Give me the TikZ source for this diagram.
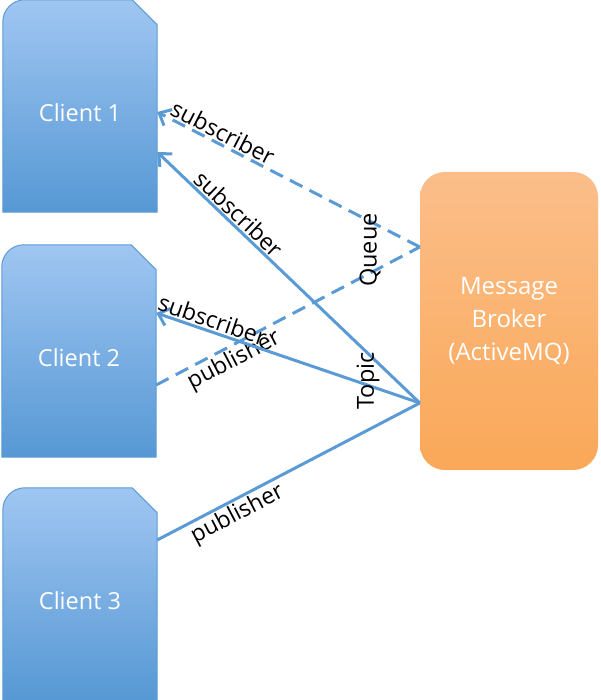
\documentclass[tikz,border=0pt]{standalone}
\usepackage{fontspec}
\setmainfont{Open Sans}
\usetikzlibrary{arrows.meta,backgrounds}

\definecolor{clienttop}{RGB}{160,198,242}
\definecolor{clientbot}{RGB}{86,152,212}
\definecolor{brokertop}{RGB}{251,190,138}
\definecolor{brokerbot}{RGB}{250,168,88}
\definecolor{linkblue}{RGB}{91,155,213}

\tikzset{
  client/.style={minimum width=154pt, minimum height=212pt, inner sep=0pt,
    text=white, text height=32pt, text depth=0pt, font=\fontsize{23.5}{32}\selectfont},
  broker/.style={rounded corners=25pt, top color=brokertop, bottom color=brokerbot,
    minimum width=178pt, minimum height=298pt, align=center, text=white,
    font=\fontsize{24}{33}\selectfont},
  link/.style={draw=linkblue, line width=3pt},
  queue/.style={link, dash pattern=on 14pt off 8pt},
  tip/.style={-{Straight Barb[length=10pt, width=18pt]}},
  tag/.style={font=\fontsize{23}{26}\selectfont, sloped, inner sep=1.5pt},
  kind/.style={font=\fontsize{23.5}{26}\selectfont, rotate=90, inner sep=0pt},
}

\begin{document}
\begin{tikzpicture}[x=1pt, y=1pt]

\useasboundingbox (0,0) rectangle (600,700);

\node[client] (c1) at (80,594) {Client 1};
\node[client] (c2) at (79,349) {Client 2};
\node[client] (c3) at (80,106) {Client 3};

\node[broker] (mb) at (509,379) {Message\\Broker\\(ActiveMQ)};

\begin{scope}[on background layer]
\foreach \c in {c1,c2,c3}
  \shade[top color=clienttop, bottom color=clientbot, draw=linkblue, line width=1pt]
    (\c.south west) -- ([yshift=-22pt]\c.north west)
    arc[start angle=180, end angle=90, radius=22pt]
    -- ([xshift=-25pt]\c.north east) -- ([yshift=-25pt]\c.north east)
    -- (\c.south east) -- cycle;
\end{scope}

\coordinate (q) at ([yshift=74pt]mb.west);
\coordinate (t) at ([yshift=-82pt]mb.west);

\draw[queue, tip] (q) -- node[tag, above, pos=0.77] (s1) {subscriber} ([yshift=-6pt]c1.east);
\draw[link, tip]  (t) -- node[tag, above, pos=0.72] (s2) {subscriber} ([yshift=-46pt]c1.east);
\draw[queue] ([yshift=-34pt]c2.east) -- node[tag, below, pos=0.27] (p1) {publisher} (q);
\draw[link, tip]  (t) -- node[tag, above, pos=0.80] (s3) {subscriber} ([yshift=38pt]c2.east);
\draw[link] ([yshift=54pt]c3.east) -- node[tag, below, pos=0.28] (p2) {publisher} (t);

\node[kind] (qk) at (370,450) {Queue};
\node[kind] (tk) at (368,319) {Topic};

\end{tikzpicture}
\end{document}
